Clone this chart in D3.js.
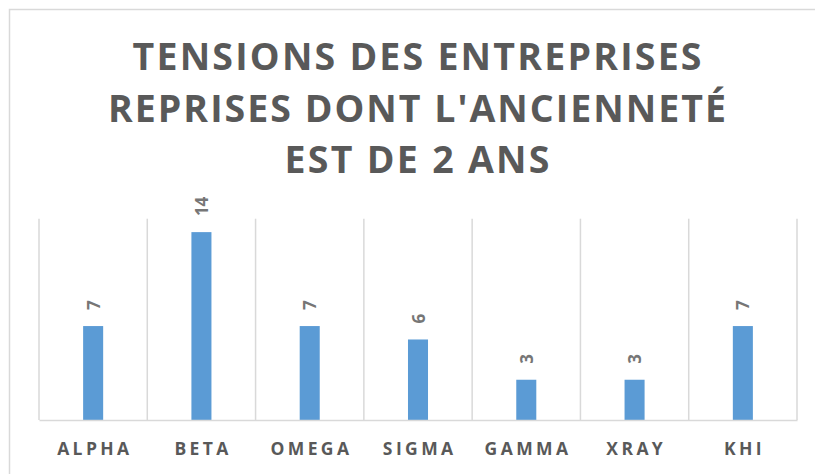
<!DOCTYPE html>
<html>
<head>
<meta charset="utf-8">
<script src="https://cdn.jsdelivr.net/npm/d3@7"></script>
<style>
  html, body { margin: 0; padding: 0; background: #ffffff; }
  svg { display: block; }
  text { font-family: "Open Sans", "DejaVu Sans", sans-serif; font-weight: 700; }
</style>
</head>
<body>
<svg id="chart" width="815" height="474"></svg>
<script>
// Chart data
const categories = ["ALPHA", "BETA", "OMEGA", "SIGMA", "GAMMA", "XRAY", "KHI"];
const values = [7, 14, 7, 6, 3, 3, 7];
const titleLines = ["TENSIONS DES ENTREPRISES", "REPRISES DONT L'ANCIENNETÉ", "EST DE 2 ANS"];
const yDomain = [0, 15];

const svg = d3.select("#chart");
const W = 815, H = 474;

// Chart frame
svg.append("rect")
  .attr("x", 9.5).attr("y", 9.5)
  .attr("width", W + 10).attr("height", H + 10)
  .attr("fill", "#ffffff")
  .attr("stroke", "#d9d9d9")
  .attr("stroke-width", 1.5);

// Title
const titleCenter = 417;
const titleWidths = [569, 618, 265];
const titleBaselines = [70, 122, 173];
svg.append("g").selectAll("text")
  .data(titleLines)
  .join("text")
  .attr("x", titleCenter)
  .attr("y", (d, i) => titleBaselines[i])
  .attr("text-anchor", "middle")
  .attr("font-size", 37.5)
  .attr("fill", "#595959")
  .attr("textLength", (d, i) => titleWidths[i])
  .attr("lengthAdjust", "spacing")
  .text(d => d);

// Scales
const plot = { left: 39, right: 797, top: 218.7, bottom: 420 };
const x = d3.scaleBand().domain(categories).range([plot.left, plot.right]).padding(0);
const y = d3.scaleLinear().domain(yDomain).range([plot.bottom, plot.top]);
const barW = x.bandwidth() * 0.185;

// Vertical category separators
const edges = categories.map(c => x(c)).concat([plot.right]);
svg.append("g").selectAll("line")
  .data(edges)
  .join("line")
  .attr("x1", d => d).attr("x2", d => d)
  .attr("y1", y(yDomain[1])).attr("y2", y(0))
  .attr("stroke", "#d9d9d9")
  .attr("stroke-width", 1.5);

// Bars
svg.append("g").selectAll("rect")
  .data(values)
  .join("rect")
  .attr("x", (d, i) => x(categories[i]) + x.bandwidth() / 2 - barW / 2)
  .attr("y", d => y(d))
  .attr("width", barW)
  .attr("height", d => y(0) - y(d))
  .attr("fill", "#5b9bd5");

// Category axis
const axis = svg.append("g")
  .attr("transform", `translate(0,${y(0)})`)
  .call(d3.axisBottom(x).tickSize(0).tickPadding(0));
axis.select(".domain").attr("stroke", "#d9d9d9").attr("stroke-width", 1.5);
const ls = 3.4;
axis.selectAll(".tick text")
  .attr("y", 35)
  .attr("dy", 0)
  .attr("dx", ls / 2)
  .attr("font-size", 17.5)
  .attr("font-family", "'Open Sans', sans-serif")
  .attr("font-weight", 700)
  .attr("letter-spacing", ls)
  .attr("fill", "#595959");

// Value labels, rotated above each bar
svg.append("g").selectAll("text")
  .data(values)
  .join("text")
  .attr("transform", (d, i) => `translate(${x(categories[i]) + x.bandwidth() / 2},${y(d) - 16}) rotate(-90)`)
  .attr("text-anchor", "start")
  .attr("dominant-baseline", "central")
  .attr("font-size", 17)
  .attr("fill", "#767676")
  .text(d => d);
</script>
</body>
</html>
